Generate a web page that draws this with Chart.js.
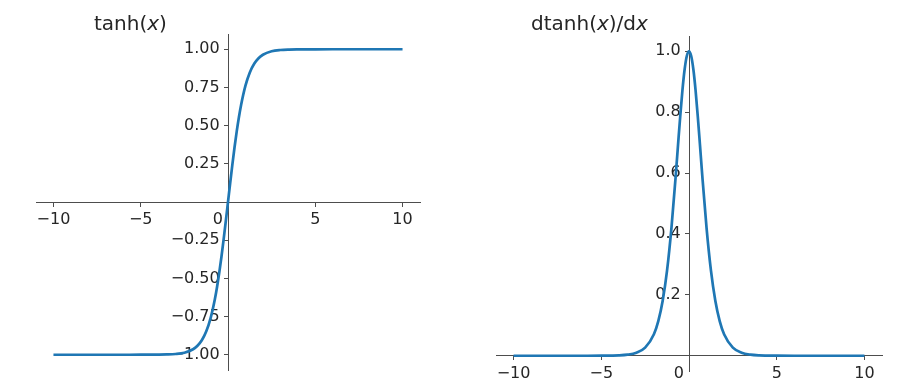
<!DOCTYPE html>
<html>
<head>
<meta charset="utf-8">
<script src="https://cdn.jsdelivr.net/npm/chart.js@4/dist/chart.umd.min.js"></script>
<style>
  html, body { margin: 0; padding: 0; background: #fff; }
  #wrap { position: relative; width: 913px; height: 390px; overflow: hidden; background: #fff; }
  canvas { position: absolute; top: 0; }
  .ttl { position: absolute; font-family: 'DejaVu Sans', sans-serif; font-size: 20px; line-height: 20px; color: #262626; white-space: nowrap; }
  .ttl i { font-style: oblique; }
</style>
</head>
<body>
<div id="wrap">
  <canvas id="c1" width="456" height="390" style="left:0px"></canvas>
  <canvas id="c2" width="457" height="390" style="left:456px"></canvas>
  <div class="ttl" style="left:94px; top:13px;">tanh(<i>x</i>)</div>
  <div class="ttl" style="left:531px; top:13px;">dtanh(<i>x</i>)/d<i>x</i></div>
</div>
<script>
// ---- data ----
const xValues = [-10, -6, -5, -4, -3.5, -3, -2.5, -2, -1.75, -1.5, -1.25, -1, -0.75, -0.625, -0.5, -0.375, -0.25, -0.125,
                 0, 0.125, 0.25, 0.375, 0.5, 0.625, 0.75, 1, 1.25, 1.5, 1.75, 2, 2.5, 3, 3.5, 4, 5, 6, 10];
const tanhValues = [-1.0, -1.0, -0.9999, -0.9993, -0.9982, -0.9951, -0.9866, -0.9640, -0.9414, -0.9051, -0.8483, -0.7616, -0.6351, -0.5546, -0.4621, -0.3584, -0.2449, -0.1244,
                    0, 0.1244, 0.2449, 0.3584, 0.4621, 0.5546, 0.6351, 0.7616, 0.8483, 0.9051, 0.9414, 0.9640, 0.9866, 0.9951, 0.9982, 0.9993, 0.9999, 1.0, 1.0];
const dtanhValues = [0.0, 0.0, 0.0002, 0.0013, 0.0036, 0.0099, 0.0266, 0.0707, 0.1138, 0.1807, 0.2804, 0.4200, 0.5966, 0.6924, 0.7864, 0.8715, 0.9400, 0.9845,
                     1.0, 0.9845, 0.9400, 0.8715, 0.7864, 0.6924, 0.5966, 0.4200, 0.2804, 0.1807, 0.1138, 0.0707, 0.0266, 0.0099, 0.0036, 0.0013, 0.0002, 0.0, 0.0];

const xTicks = [-10, -5, 0, 5, 10];
const xTickLabels = ['\u221210', '\u22125', '0    ', '5', '10'];
const tanhTicks = [-1.0, -0.75, -0.5, -0.25, 0.25, 0.5, 0.75, 1.0];
const tanhTickLabels = ['\u22121.00', '\u22120.75', '\u22120.50', '\u22120.25', '0.25', '0.50', '0.75', '1.00'];
const dtanhTicks = [0.2, 0.4, 0.6, 0.8, 1.0];
const dtanhTickLabels = ['0.2', '0.4', '0.6', '0.8', '1.0'];

const xRange = [-11, 11];
const tanhRange = [-1.1, 1.1];
const dtanhRange = [-0.05, 1.05];

// ---- chart builder ----
const LINE = '#1f77b4';
const AXIS = '#4d4d4d';
const TXT = '#262626';
const FONT = { family: "'DejaVu Sans', sans-serif", size: 16 };
const Y_LABEL_GAP = ' \u2009'; // centred y axis ignores tick padding, keep labels off the tick marks

function fixedTicks(values, labels) {
  return {
    afterBuildTicks: (scale) => { scale.ticks = values.map(v => ({ value: v })); },
    labels: labels,
    values: values
  };
}

function makeChart(id, ys, yRange, yTickVals, yTickLabels, padding) {
  const pts = xValues.map((x, i) => ({ x: x, y: ys[i] }));
  const xt = fixedTicks(xTicks, xTickLabels);
  const yt = fixedTicks(yTickVals, yTickLabels);
  return new Chart(document.getElementById(id), {
    type: 'line',
    data: { datasets: [{ data: pts, borderColor: LINE, borderWidth: 2.7, pointRadius: 0, fill: false,
                         cubicInterpolationMode: 'monotone' }] },
    options: {
      responsive: false, animation: false, devicePixelRatio: 1,
      layout: { padding: padding },
      plugins: { legend: { display: false }, tooltip: { enabled: false }, title: { display: false } },
      scales: {
        x: {
          type: 'linear', min: xRange[0], max: xRange[1], position: { y: 0 },
          afterBuildTicks: xt.afterBuildTicks,
          grid: { display: true, drawOnChartArea: false, drawTicks: true, tickLength: 4, color: AXIS, tickWidth: 1 },
          border: { display: true, color: AXIS, width: 1 },
          ticks: { color: TXT, font: FONT, padding: 4, maxRotation: 0, autoSkip: false,
                   callback: (v) => { const i = xt.values.indexOf(v); return i >= 0 ? xt.labels[i] : ''; } }
        },
        y: {
          type: 'linear', min: yRange[0], max: yRange[1], position: { x: 0 },
          afterBuildTicks: yt.afterBuildTicks,
          grid: { display: true, drawOnChartArea: false, drawTicks: true, tickLength: 4, color: AXIS, tickWidth: 1 },
          border: { display: true, color: AXIS, width: 1 },
          ticks: { color: TXT, font: FONT, padding: 4, autoSkip: false,
                   callback: (v) => { const i = yt.values.findIndex(t => Math.abs(t - v) < 1e-9); return i >= 0 ? yt.labels[i] + Y_LABEL_GAP : ''; } }
        }
      }
    }
  });
}

makeChart('c1', tanhValues, tanhRange, tanhTicks, tanhTickLabels, { left: 36, right: 36, top: 34, bottom: 20 });
makeChart('c2', dtanhValues, dtanhRange, dtanhTicks, dtanhTickLabels, { left: 40, right: 31, top: 36, bottom: 19 });
</script>
</body>
</html>
